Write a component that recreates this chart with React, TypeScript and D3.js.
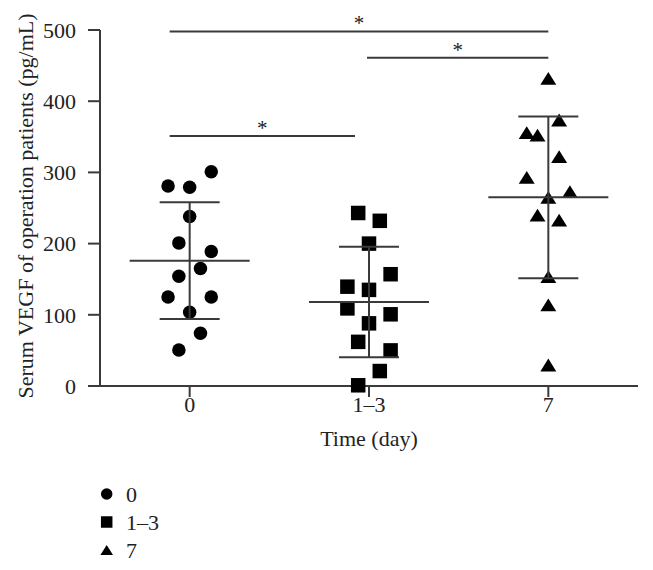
import React from "react";
import * as d3 from "d3";

const categories = ["0", "1–3", "7"];
const day0Values = [301, 281, 279, 238, 201, 189, 165, 154, 125, 125, 103.5, 74, 50.6];
const day0Slots = [2, -2, 0, 0, -1, 2, 1, -1, -2, 2, 0, 1, -1];
const day13Values = [243, 232, 200, 157, 139.5, 135, 109, 100.7, 88, 62, 50, 21, 1];
const day13Slots = [-1, 1, 0, 2, -2, 0, -2, 2, 0, -1, 2, 1, -1];
const day7Values = [432, 373.6, 356, 352.5, 322, 293, 273, 265, 240, 233, 153.5, 114, 29.5];
const day7Slots = [0, 1, -2, -1, 1, -2, 2, 0, -1, 1, 0, 0, 0];
const groupMeans = [176, 118, 265];
const groupSDs = [82, 77.5, 113.5];
const yTicks = [0, 100, 200, 300, 400, 500];
const bracketFrom = ["0", "1–3", "0"];
const bracketTo = ["7", "7", "1–3"];
const bracketLevels = [498, 461, 351];
const bracketLabels = ["*", "*", "*"];
const legendLabels = ["0", "1–3", "7"];

const W = 653;
const H = 570;
const FONT = "'Liberation Serif', 'Times New Roman', serif";
const AX = "#3a3a3a";
const FS = 22;

const groups = [
  { values: day0Values, slots: day0Slots, shape: "circle" },
  { values: day13Values, slots: day13Slots, shape: "square" },
  { values: day7Values, slots: day7Slots, shape: "triangle" },
];

function Marker({ shape, cx, cy, s }: { shape: string; cx: number; cy: number; s: number }) {
  if (shape === "circle") return <circle cx={cx} cy={cy} r={s / 2} fill="#000" />;
  if (shape === "square") return <rect x={cx - s / 2} y={cy - s / 2} width={s} height={s} fill="#000" />;
  const w = s * 1.1;
  const h = s * 0.88;
  return (
    <path
      d={`M${cx},${cy - h / 2}L${cx + w / 2},${cy + h / 2}L${cx - w / 2},${cy + h / 2}Z`}
      fill="#000"
    />
  );
}

export default function App() {
  const x = d3.scalePoint<string>().domain(categories).range([100, 638]).padding(0.5);
  const y = d3.scaleLinear().domain([0, 500]).range([386, 30]);
  const slotW = 10.8;
  const startOff: Record<string, number> = { "0": -20, "1–3": -2, "7": 0 };
  const endOff: Record<string, number> = { "0": 0, "1–3": -14, "7": 0 };

  return (
    <div style={{ position: "fixed", left: 0, top: 0 }}>
      <svg width={W} height={H} style={{ display: "block", background: "#fff" }} fontFamily={FONT}>
        {/* y axis */}
        <line x1={100} x2={100} y1={y(500)} y2={y(0)} stroke={AX} strokeWidth={2} />
        {yTicks.map((t) => (
          <g key={t}>
            <line x1={88} x2={100} y1={y(t)} y2={y(t)} stroke={AX} strokeWidth={2} />
            <text x={76} y={y(t)} dy="0.35em" textAnchor="end" fontSize={FS} fill="#222">
              {t}
            </text>
          </g>
        ))}
        <text
          transform={`translate(25,${(y(500) + y(0)) / 2 - 2}) rotate(-90)`}
          textAnchor="middle"
          dy="0.35em"
          fontSize={FS}
          fill="#222"
        >
          Serum VEGF of operation patients (pg/mL)
        </text>
        {/* x axis */}
        <line x1={99} x2={638} y1={y(0)} y2={y(0)} stroke={AX} strokeWidth={2} />
        {categories.map((c) => (
          <g key={c}>
            <line x1={x(c)!} x2={x(c)!} y1={y(0)} y2={y(0) + 11} stroke={AX} strokeWidth={2} />
            <text x={x(c)!} y={412} textAnchor="middle" fontSize={FS} fill="#222">
              {c}
            </text>
          </g>
        ))}
        <text x={x("1–3")!} y={446} textAnchor="middle" fontSize={FS} fill="#222">
          Time (day)
        </text>
        {/* brackets */}
        {bracketLevels.map((lv, i) => {
          const x1 = x(bracketFrom[i])! + startOff[bracketFrom[i]];
          const x2 = x(bracketTo[i])! + endOff[bracketTo[i]];
          return (
            <g key={i}>
              <line x1={x1} x2={x2} y1={y(lv)} y2={y(lv)} stroke={AX} strokeWidth={2} />
              <text x={(x1 + x2) / 2} y={y(lv) - 1} textAnchor="middle" fontSize={21} fill="#222">
                {bracketLabels[i]}
              </text>
            </g>
          );
        })}
        {/* points */}
        {groups.map((g, gi) => {
          const cx0 = x(categories[gi])!;
          return (
            <g key={gi}>
              {g.values.map((v, i) => (
                <Marker key={i} shape={g.shape} cx={cx0 + g.slots[i] * slotW} cy={y(v)} s={g.shape === "circle" ? 13.5 : 14.5} />
              ))}
            </g>
          );
        })}
        {/* mean and SD */}
        {groupMeans.map((m, gi) => {
          const cx0 = x(categories[gi])!;
          const hi = y(m + groupSDs[gi]);
          const lo = y(m - groupSDs[gi]);
          return (
            <g key={gi} stroke={AX} strokeWidth={2}>
              <line x1={cx0 - 60} x2={cx0 + 60} y1={y(m)} y2={y(m)} />
              <line x1={cx0} x2={cx0} y1={hi} y2={lo} />
              <line x1={cx0 - 30} x2={cx0 + 30} y1={hi} y2={hi} />
              <line x1={cx0 - 30} x2={cx0 + 30} y1={lo} y2={lo} />
            </g>
          );
        })}
        {/* legend */}
        {legendLabels.map((l, i) => (
          <g key={l}>
            <Marker shape={groups[i].shape} cx={106.7} cy={494 + i * 28} s={11.5} />
            <text x={126} y={494 + i * 28} dy="0.35em" fontSize={FS} fill="#222">
              {l}
            </text>
          </g>
        ))}
      </svg>
    </div>
  );
}
